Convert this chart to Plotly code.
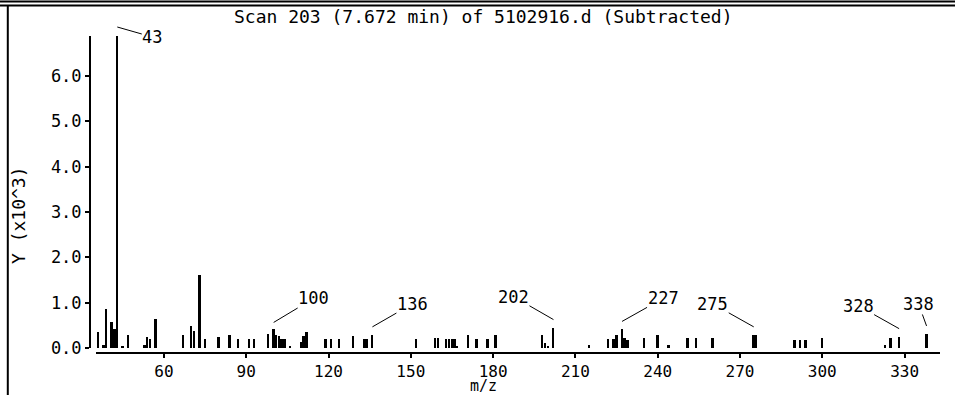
import plotly.graph_objects as go

# ---- data ----
mz = [36, 38, 39, 41, 42, 43, 45, 47, 53, 54, 55, 57, 67, 70, 71, 73, 75, 80, 84, 87,
      91, 93, 98, 100, 101, 102, 103, 104, 106, 110, 111, 112, 119, 121, 124, 129, 133,
      134, 136, 152, 159, 160, 163, 164, 165, 166, 167, 171, 174, 178, 181, 198, 199,
      200, 202, 215, 222, 224, 225, 227, 228, 229, 235, 240, 244, 251, 254, 260, 275,
      276, 290, 292, 294, 300, 323, 325, 328, 338]
abund = [0.36, 0.06, 0.87, 0.58, 0.43, 6.88, 0.03, 0.28, 0.06, 0.24, 0.19, 0.65, 0.28,
         0.49, 0.37, 1.60, 0.19, 0.24, 0.28, 0.19, 0.19, 0.19, 0.31, 0.41, 0.29, 0.27,
         0.19, 0.19, 0.04, 0.14, 0.26, 0.36, 0.19, 0.19, 0.19, 0.26, 0.19, 0.19, 0.29,
         0.19, 0.21, 0.21, 0.19, 0.19, 0.19, 0.19, 0.04, 0.29, 0.19, 0.19, 0.29, 0.29,
         0.10, 0.03, 0.45, 0.07, 0.19, 0.19, 0.29, 0.41, 0.21, 0.18, 0.23, 0.29, 0.07,
         0.23, 0.23, 0.23, 0.29, 0.29, 0.18, 0.18, 0.18, 0.21, 0.07, 0.21, 0.25, 0.31]
labelled = [43, 100, 136, 202, 227, 275, 328, 338]
x_ticks = [60, 90, 120, 150, 180, 210, 240, 270, 300, 330]
y_ticks = [0, 1, 2, 3, 4, 5, 6]
title_text = "Scan 203 (7.672 min) of 5102916.d (Subtracted)"
x_title = "m/z"
y_title = "Y (x10^3)"

# label leader offsets (style)
label_ax = [35, 40, 40, -40, 41, -41, -41, -8]
label_ay = [10, -24, -23, -23, -23, -23, -23, -22]
label_shift = [9, 7, 8, 8, 8, 8, 8, 8]

W, H = 955, 395
ML, MR, MT, MB = 90, 15, 36, 35
PW, PH = W - ML - MR, H - MT - MB


def px(x):
    return (x - ML) / PW


def py(y):
    return (H - MB - y) / PH


FONT = "DejaVu Sans Mono"

fig = go.Figure()
fig.add_trace(go.Bar(x=mz, y=abund, width=0.7, marker=dict(color="black", line=dict(width=0)),
                     showlegend=False))

ann = []
for i, m in enumerate(labelled):
    v = abund[mz.index(m)]
    ann.append(dict(x=m, y=v, xref="x", yref="y", text=str(m), showarrow=True,
                    arrowhead=0, arrowwidth=1, arrowcolor="black", standoff=0,
                    ax=label_ax[i], ay=label_ay[i], yshift=label_shift[i],
                    font=dict(family=FONT, size=17, color="black"), borderpad=0))

ann.append(dict(x=px(483), y=py(17), xref="paper", yref="paper", text=title_text,
                showarrow=False, font=dict(family=FONT, size=18, color="black"),
                xanchor="center", yanchor="middle"))
ann.append(dict(x=px(18), y=py(215), xref="paper", yref="paper", text=y_title,
                showarrow=False, textangle=-90, font=dict(family=FONT, size=18, color="black"),
                xanchor="center", yanchor="middle"))
ann.append(dict(x=px(483), y=py(386), xref="paper", yref="paper", text=x_title,
                showarrow=False, font=dict(family=FONT, size=15, color="black"),
                xanchor="center", yanchor="middle", borderpad=0))

shapes = [
    dict(type="line", xref="paper", yref="paper", x0=px(0), x1=px(W), y0=py(1.5), y1=py(1.5),
         line=dict(color="black", width=2)),
    dict(type="line", xref="paper", yref="paper", x0=px(0), x1=px(W), y0=py(5.5), y1=py(5.5),
         line=dict(color="black", width=2)),
    dict(type="line", xref="paper", yref="paper", x0=px(7.8), x1=px(7.8), y0=py(6), y1=py(H),
         line=dict(color="black", width=2)),
]

fig.update_layout(
    width=W, height=H,
    margin=dict(l=ML, r=MR, t=MT, b=MB, pad=0),
    paper_bgcolor="white", plot_bgcolor="white",
    bargap=0,
    annotations=ann, shapes=shapes,
    font=dict(family=FONT, size=17, color="black"),
    xaxis=dict(range=[35.24, 342.9], domain=[px(96), 1], anchor="free", position=py(353),
               tickvals=x_ticks, ticktext=[str(t) for t in x_ticks],
               showline=True, linecolor="black", linewidth=2, ticks="outside", ticklen=4,
               tickwidth=1.5, tickcolor="black", showgrid=False, zeroline=False,
               tickfont=dict(family=FONT, size=16, color="black")),
    yaxis=dict(range=[0, 6.88], domain=[py(348), 1], anchor="free", position=0,
               tickvals=y_ticks, ticktext=["%.1f" % t for t in y_ticks],
               showline=True, linecolor="black", linewidth=2, ticks="outside", ticklen=4,
               tickwidth=1.5, tickcolor="black", showgrid=False, zeroline=False,
               tickfont=dict(family=FONT, size=17, color="black")),
)

fig.write_html("out.html")
